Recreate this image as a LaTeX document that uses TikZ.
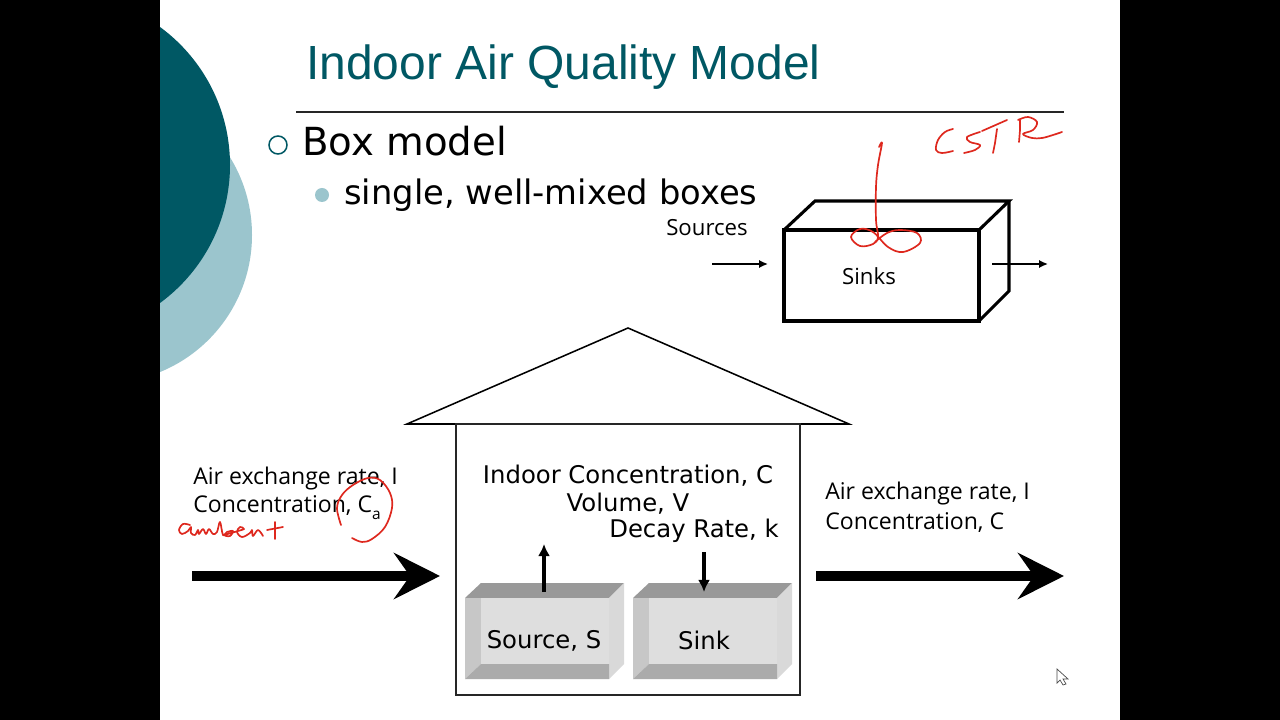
\documentclass[tikz,border=0pt]{standalone}
\usepackage{fontspec}
\setmainfont{DejaVu Sans}
\newfontfamily\titlefont{Liberation Sans}
\newfontfamily\labelfont{Open Sans}
\usetikzlibrary{arrows.meta}
\usetikzlibrary{positioning}

\begin{document}
\begin{tikzpicture}[x=0.025cm, y=-0.025cm,
    thickarrow/.style={-{Stealth[length=1.15cm, width=1.15cm, inset=0.4cm]}, line width=7.1pt},
    stubarrow/.style={-{Latex[length=0.3cm, width=0.3cm]}, line width=2.6pt},
    flowarrow/.style={-{Latex[length=0.22cm, width=0.2cm]}, line width=1.1pt},
    boxedge/.style={line width=2.2pt, line join=miter},
    bodytext/.style={inner sep=0pt, font=\fontsize{17.3}{21}\selectfont, text=black},
    sidetext/.style={inner sep=0pt, anchor=west, font=\labelfont\fontsize{16.4}{20}\selectfont, text=black},
    handink/.style={draw=inkred, line width=1.2pt, line cap=round, line join=round}]
      % Define colors
      \definecolor{tealdark}{RGB}{0, 88, 100}
      \definecolor{teallight}{RGB}{155, 197, 205}
      \definecolor{inkred}{RGB}{222, 40, 30}

      % Page and side bars
      \fill[white] (0,0) rectangle (1280,720);
      \fill[black] (0,0) rectangle (160,720);
      \fill[black] (1120,0) rectangle (1280,720);

      % Slide circles
      \begin{scope}
        \clip (160,0) rectangle (400,720);
        \fill[teallight] (104,235) circle (148);
        \fill[tealdark] (59,165) circle (171);
      \end{scope}

      % Title and rule
      \node[inner sep=0pt, anchor=west, text=tealdark, font=\titlefont\fontsize{34.1}{40}\selectfont] (title) at (306,67.5) {Indoor Air Quality Model};
      \draw[line width=1.1pt, black!85] (296,112) -- (1064,112);

      % Bullets
      \draw[tealdark, line width=1.1pt] (278,145) circle (9);
      \node[inner sep=0pt, anchor=west, font=\fontsize{27.5}{32}\selectfont] (boxmodel) at (302,141) {Box model};
      \fill[teallight] (322,195) circle (7);
      \node[inner sep=0pt, anchor=west, font=\fontsize{24}{29}\selectfont] (single) at (344,195) {single, well-mixed boxes};

      % CSTR box
      \draw[boxedge] (784,230) rectangle (979,321);
      \draw[boxedge] (784,230) -- (815,201) -- (1009,201) -- (979,230);
      \draw[boxedge] (1009,201) -- (1009,291) -- (979,321);
      \node[bodytext, font=\labelfont\fontsize{15.8}{20}\selectfont] (sources) at (707,228) {Sources};
      \node[bodytext, font=\labelfont\fontsize{15.8}{20}\selectfont] (sinks) at (869,276) {Sinks};
      \coordinate (inA) at (712,264);
      \coordinate (inB) at (768,264);
      \coordinate (outA) at (992,264);
      \coordinate (outB) at (1048,264);
      \draw[flowarrow] (inA) -- (inB);
      \draw[flowarrow] (outA) -- (outB);

      % House
      \draw[line width=1.1pt] (407,424) -- (628,328) -- (849,424) -- cycle;
      \draw[line width=1.1pt, black!85] (456,424) rectangle (800,695);

      % Source block
      \fill[black!40] (465,598) -- (481,583) -- (624,583) -- (609,598) -- cycle;
      \fill[black!22] (465,598) -- (481,598) -- (481,664) -- (465,679) -- cycle;
      \fill[black!15] (609,598) -- (624,583) -- (624,664) -- (609,679) -- cycle;
      \fill[black!33] (465,679) -- (481,664) -- (609,664) -- (609,679) -- cycle;
      \fill[black!13] (481,598) rectangle (609,664);

      % Sink block
      \fill[black!40] (633,598) -- (649,583) -- (792,583) -- (777,598) -- cycle;
      \fill[black!22] (633,598) -- (649,598) -- (649,664) -- (633,679) -- cycle;
      \fill[black!15] (777,598) -- (792,583) -- (792,664) -- (777,679) -- cycle;
      \fill[black!33] (633,679) -- (649,664) -- (777,664) -- (777,679) -- cycle;
      \fill[black!13] (649,598) rectangle (777,664);

      \node[bodytext] (source) at (544,641) {Source, S};
      \node[bodytext] (sink) at (704,640) {Sink};
      \coordinate (srcA) at (544,592);
      \coordinate (srcB) at (544,544);
      \coordinate (snkA) at (704,552);
      \coordinate (snkB) at (704,592);
      \draw[stubarrow] (srcA) -- (srcB);
      \draw[stubarrow] (snkA) -- (snkB);

      % Room labels
      \node[bodytext] (conc) at (628,476) {Indoor Concentration, C};
      \node[bodytext] (volume) at (628,504) {Volume, V};
      \node[bodytext] (decay) at (694,530.5) {Decay Rate, k};

      % Inflow
      \node[sidetext] (inrate) at (193,479) {Air exchange rate, I};
      \node[sidetext] (inconc) at (193,508) {Concentration, C\raisebox{-0.3em}{\fontsize{11}{13}\selectfont a}};
      \coordinate (flowinA) at (192,576);
      \coordinate (flowinB) at (440,576);
      \draw[thickarrow] (flowinA) -- (flowinB);

      % Outflow
      \node[sidetext] (outrate) at (825,494) {Air exchange rate, I};
      \node[sidetext] (outconc) at (825,523) {Concentration, C};
      \coordinate (flowoutA) at (816,576);
      \coordinate (flowoutB) at (1064,576);
      \draw[thickarrow] (flowoutA) -- (flowoutB);

      % Handwriting: loop on the box
      \draw[handink] plot[smooth, tension=0.6] coordinates {(879,147) (882,143) (878,165) (876,187) (876,220) (878,237) (873,244) (860,246) (851,237) (860,229) (873,232) (888,247) (903,252) (920,243) (917,233) (900,230) (887,233) (875,242)};

      % Handwriting: CSTR
      \draw[handink] plot[smooth, tension=0.6] coordinates {(953,129) (945,132) (938,140) (936,150) (942,153) (953,151)};
      \draw[handink] plot[smooth, tension=0.6] coordinates {(980,132) (967,137) (970,142) (980,145) (975,150) (964,153)};
      \draw[handink] (982,131) -- (1007,120);
      \draw[handink] (997,129) -- (995,143) -- (993,153);
      \draw[handink] (1020,120) -- (1020,130) -- (1019,142);
      \draw[handink] plot[smooth, tension=0.6] coordinates {(1018,120) (1028,117) (1037,122) (1033,130) (1023,134) (1032,138) (1042,138) (1053,135) (1062,132)};

      % Handwriting: ambient
      \draw[handink] plot[smooth, tension=0.6] coordinates {(190,525) (183,524) (179,530) (182,534) (188,531) (191,527) (191,533) (195,535) (198,530) (199,534) (203,529) (206,534) (209,529) (213,534) (217,532) (220,522) (223,535) (227,532) (233,531) (230,536) (225,535) (238,531) (244,529) (240,527) (237,532) (242,537) (250,533) (252,530) (253,536) (258,530) (263,536)};
      \draw[handink] (267,530) -- (283,527);
      \draw[handink] (275,522) -- (275,539);

      % Handwriting: circle round C_a
      \draw[handink] plot[smooth, tension=0.6] coordinates {(341,525) (337,508) (342,495) (353,485) (368,478) (380,480) (390,493) (392,508) (385,527) (372,539) (362,542) (352,538)};

      % Mouse pointer
      \draw[black!70, fill=white, line width=0.5pt] (1057,669) -- (1057,683) -- (1060,680) -- (1063,685) -- (1066,684) -- (1063,679) -- (1068,679) -- cycle;
\end{tikzpicture}
\end{document}
